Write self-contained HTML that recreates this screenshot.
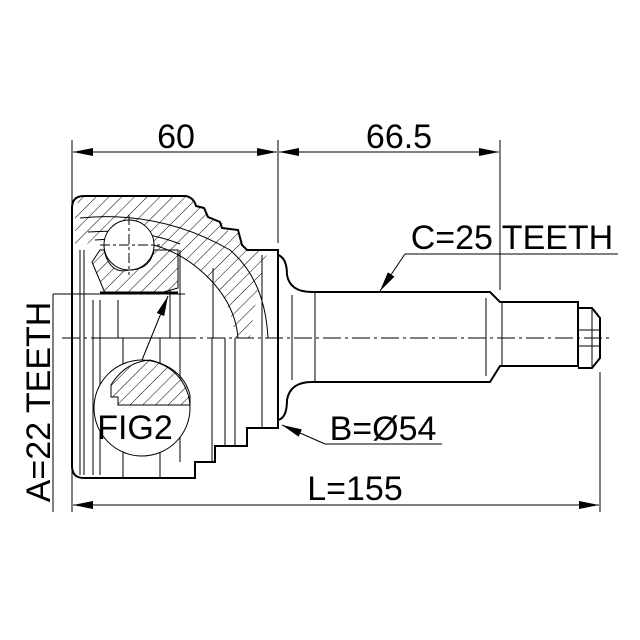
<!DOCTYPE html>
<html><head><style>
html,body{margin:0;padding:0;background:#fff}
svg{display:block}
text{font-family:"Liberation Sans",sans-serif;fill:#000}
</style></head><body>
<svg width="640" height="640" viewBox="0 0 640 640" xmlns="http://www.w3.org/2000/svg">
<defs>
<pattern id="h" width="9" height="9" patternUnits="userSpaceOnUse" patternTransform="rotate(45)">
<line x1="0" y1="0" x2="0" y2="9" stroke="#000" stroke-width="1"/>
</pattern>
<marker id="a" viewBox="0 0 20 8" refX="20" refY="4" markerWidth="20" markerHeight="8" markerUnits="userSpaceOnUse" orient="auto-start-reverse">
<path d="M0,0 L20,4 L0,8 z" fill="#000"/>
</marker>
</defs>
<g stroke="#000" fill="none" stroke-width="1">
<line x1="72" y1="140" x2="72" y2="512"/>
<line x1="278" y1="140" x2="278" y2="243"/>
<line x1="500" y1="140" x2="500" y2="290"/>
<line x1="600" y1="372" x2="600" y2="512"/>
<line x1="73" y1="152" x2="277" y2="152" marker-start="url(#a)" marker-end="url(#a)"/>
<line x1="279" y1="152" x2="499" y2="152" marker-start="url(#a)" marker-end="url(#a)"/>
<line x1="73" y1="505" x2="599" y2="505" marker-start="url(#a)" marker-end="url(#a)"/>
<line x1="53" y1="294" x2="53" y2="512"/>
<line x1="53" y1="294" x2="185" y2="294"/>
<line x1="95" y1="338" x2="190" y2="338"/>
<line x1="62" y1="338" x2="612" y2="338" stroke-dasharray="18,4,3,4"/>
<path d="M80,196 L186,196 Q194,198 196,206 L206,210 L210,218 L222,222 L224,230 L240,232 L242,245 L247,250 L268,250 Q255,300 250,338 L235,338 Q230,280 175,255 Q140,240 95,240 L75,250 L75,210 Z" fill="url(#h)" stroke="none"/>
<path d="M72,208 Q72,196 84,196 L186,196 Q194,198 196,206 L204,208 L208,217 L220,222 L222,228 L238,230 L242,245 L247,250 L278,250 L278,428 L247,428 L247,446 L215,446 L215,462 L195,462 L195,478 L84,478 Q72,478 72,466 Z" stroke-width="2"/>
<path d="M80,218 Q160,210 230,250 Q265,280 268,338" />
<path d="M95,240 Q160,235 200,270 Q235,300 238,338"/>
<path d="M88,232 Q140,228 180,244"/>
<circle cx="129" cy="245" r="25" fill="#fff"/>
<line x1="100" y1="245" x2="160" y2="245" stroke-dasharray="10,3,3,3"/>
<line x1="129" y1="215" x2="129" y2="275" stroke-dasharray="10,3,3,3"/>
<path d="M92,262 L100,250 L104,250 Q110,275 129,270 Q150,270 154,250 L178,250 L178,288 L160,293 L105,293 Z" fill="url(#h)"/>
<path d="M100,293 L178,293" stroke-width="3"/>
<line x1="80" y1="250" x2="80" y2="475"/>
<line x1="84" y1="250" x2="84" y2="475"/>
<line x1="93" y1="300" x2="93" y2="475"/>
<line x1="100" y1="300" x2="100" y2="475"/>
<line x1="118" y1="300" x2="118" y2="338"/>
<line x1="170" y1="290" x2="170" y2="338"/>
<line x1="180" y1="250" x2="180" y2="462"/>
<line x1="212" y1="338" x2="212" y2="462"/>
<line x1="213" y1="268" x2="213" y2="338"/>
<line x1="225" y1="338" x2="225" y2="446"/>
<line x1="235" y1="338" x2="235" y2="446"/>
<line x1="262" y1="255" x2="262" y2="428"/>
<line x1="123" y1="338" x2="123" y2="478"/>
<line x1="160" y1="338" x2="160" y2="478"/>
<circle cx="142" cy="408" r="48" fill="#fff"/>
<path d="M111,385 L111,397 L118,397 L118,405 L190,405 L190,395 Q183,368 150,360 Q125,362 111,385 Z" fill="url(#h)"/>
<line x1="142" y1="360" x2="168" y2="296" marker-end="url(#a)"/>
<path d="M278,255 Q287,258 287,275 Q290,292 312,292 L490,292 L500,302 L578,302 L578,366 L500,366 L490,382 L312,382 Q290,382 287,400 Q287,418 278,420" stroke-width="2"/>
<line x1="292" y1="295" x2="292" y2="380"/>
<line x1="315" y1="292" x2="315" y2="382"/>
<line x1="486" y1="298" x2="486" y2="376"/>
<line x1="502" y1="302" x2="502" y2="366"/>
<path d="M578,308 L592,308 L600,318 L600,358 L592,368 L578,368" stroke-width="2"/>
<line x1="592" y1="308" x2="592" y2="368"/>
<rect x="578" y="330" width="22" height="16"/>
<line x1="405" y1="254" x2="618" y2="254"/>
<line x1="405" y1="254" x2="380" y2="291" marker-end="url(#a)"/>
<line x1="325" y1="444" x2="442" y2="444"/>
<line x1="325" y1="444" x2="282" y2="425" marker-end="url(#a)"/>
</g>
<g font-size="34" text-anchor="middle" textLength="0">
<text x="176" y="148">60</text>
<text x="399" y="148">66.5</text>
<text x="512" y="249">C=25 TEETH</text>
<text x="383" y="440">B=Ø54</text>
<text x="355" y="500">L=155</text>
<text x="135" y="439">FIG2</text>
<text transform="translate(50,402) rotate(-90)">A=22 TEETH</text>
</g>
</svg>
</body></html>
